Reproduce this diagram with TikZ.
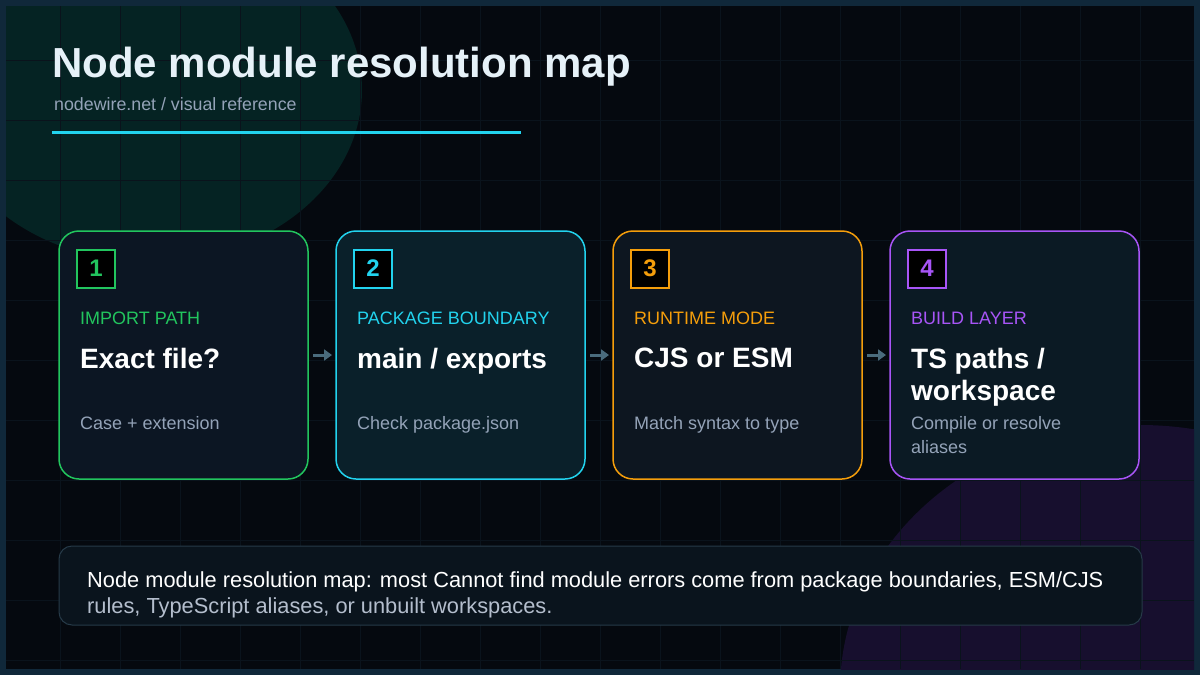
\documentclass[tikz,border=0pt]{standalone}
\usepackage{fontspec}
\setmainfont{Liberation Sans}
\definecolor{bg}{HTML}{05090F}
\definecolor{frame}{HTML}{10283A}
\definecolor{gridc}{HTML}{0A131C}
\definecolor{teal}{HTML}{052323}
\definecolor{purp}{HTML}{170F2E}
\definecolor{cg}{HTML}{22C55E}
\definecolor{cc}{HTML}{22D3EE}
\definecolor{co}{HTML}{F59E0B}
\definecolor{cp}{HTML}{A855F7}
\definecolor{desc}{HTML}{94A3B8}
\definecolor{arr}{HTML}{4A6B7C}
\definecolor{titlec}{HTML}{E6F1F8}
\definecolor{notef}{HTML}{0A141D}
\tikzset{
 card/.style={rounded corners=20pt,line width=1.5pt},
 numbox/.style={draw=#1,line width=2pt,fill=black,minimum width=38pt,minimum height=38pt,text=#1,font=\fontsize{24}{24}\selectfont\bfseries,inner sep=0},
 lab/.style={anchor=west,text=#1,font=\fontsize{18}{18}\selectfont,inner sep=0},
 head/.style={anchor=west,text=white,font=\fontsize{28}{32}\selectfont\bfseries,inner sep=0,align=left},
 dsc/.style={anchor=north west,text=desc,font=\fontsize{18}{24}\selectfont,inner sep=0,align=left},
 flow/.style={arr,line width=3pt,-{Triangle[length=8pt,width=11pt]}},
}
\usetikzlibrary{arrows.meta}
\begin{document}
\begin{tikzpicture}[x=1pt,y=-1pt]
\useasboundingbox (0,0) rectangle (1200,675);
\fill[frame] (0,0) rectangle (1200,675);
\fill[bg] (6,6) rectangle (1194,669);
\begin{scope}
\clip (6,6) rectangle (1194,669);
\fill[teal] (150,90) ellipse [x radius=212, y radius=172];
\fill[purp] (1140,690) ellipse [x radius=300, y radius=265];
\foreach \x in {0,60,...,1200} \draw[gridc,line width=1pt] (\x,6)--(\x,669);
\foreach \y in {0,60,...,675} \draw[gridc,line width=1pt] (6,\y)--(1194,\y);
\end{scope}
\node[anchor=west,text=titlec,font=\fontsize{42}{42}\selectfont\bfseries,inner sep=0] (title) at (52,67) {Node module resolution map};
\node[anchor=west,text=desc,font=\fontsize{17.8}{18}\selectfont,inner sep=0] (sub) at (54,104) {nodewire.net / visual reference};
\draw[cc,line width=3pt] (52,132) -- (521,132);
% cards
\foreach \i/\x/\c/\f/\n/\l/\h/\d in {
 1/59/cg/0C1623/1/IMPORT PATH/Exact file?/Case + extension,
 2/336/cc/0A202A/2/PACKAGE BOUNDARY/{main / exports}/Check package.json,
 3/613/co/0D1620/3/RUNTIME MODE/CJS or ESM/Match syntax to type,
 4/890/cp/0B1A24/4/BUILD LAYER/{TS paths /\\workspace}/{Compile or resolve\\aliases}} {
 \definecolor{cf}{HTML}{\f}
 \draw[card,draw=\c,fill=cf] (\x,231) rectangle ++(249,248);
 \node[numbox=\c] (n\i) at (\x+37,268.5) {\n};
 \node[lab=\c] (l\i) at (\x+21,318.5) {\l};
 \node[head,anchor=north west] (h\i) at (\x+21,348) {\h};
 \node[dsc] (d\i) at (\x+21,416) {\d};
 \coordinate (L\i) at (\x,355);
 \coordinate (R\i) at (\x+249,355);
}
\draw[flow] ([xshift=5pt]R1) -- ([xshift=-4pt]L2);
\draw[flow] ([xshift=5pt]R2) -- ([xshift=-4pt]L3);
\draw[flow] ([xshift=5pt]R3) -- ([xshift=-4pt]L4);
% note
\draw[rounded corners=13pt,draw=frame!80!gray,line width=1pt,fill=notef] (59,546) rectangle (1142,625);
\node[anchor=north west,inner sep=0,align=left,font=\fontsize{21.8}{26}\selectfont] (note) at (87,571)
 {\textcolor{white}{Node module resolution map: most Cannot find module errors come from package boundaries, ESM/CJS}\\
  \textcolor{desc!70!white}{rules, TypeScript aliases, or unbuilt workspaces.}};
\end{tikzpicture}
\end{document}
